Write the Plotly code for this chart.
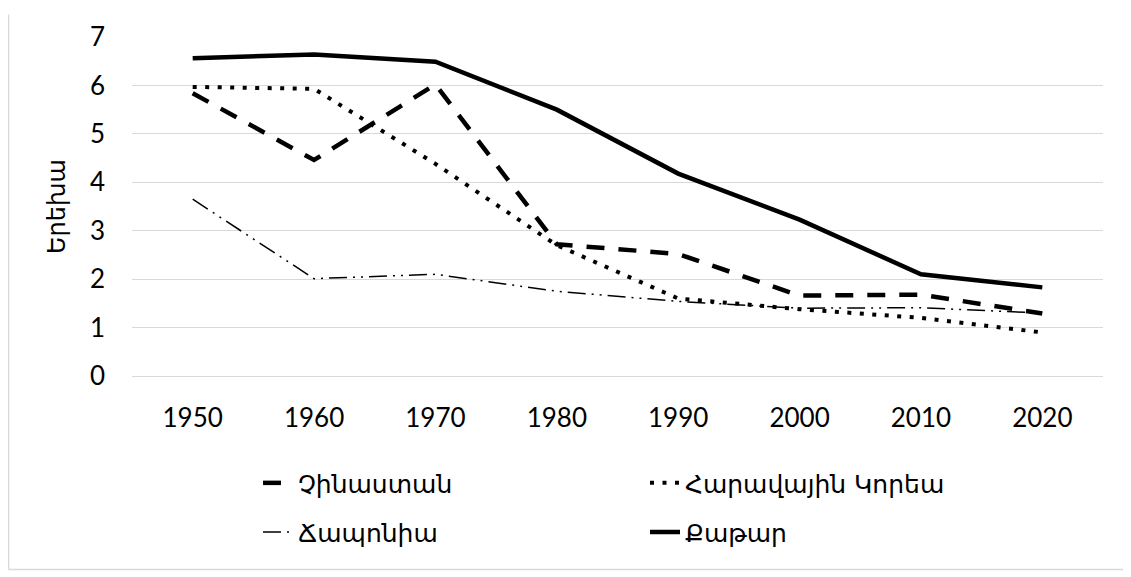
import plotly.graph_objects as go

years = ["1950", "1960", "1970", "1980", "1990", "2000", "2010", "2020"]
china = [5.84, 4.46, 6.02, 2.72, 2.52, 1.66, 1.68, 1.29]
north_korea = [5.97, 5.93, 4.38, 2.70, 1.60, 1.38, 1.20, 0.90]
japan = [3.65, 2.01, 2.10, 1.75, 1.54, 1.40, 1.41, 1.30]
qatar = [6.56, 6.64, 6.49, 5.50, 4.18, 3.23, 2.10, 1.83]

names = ["Չինաստան", "Հարավային Կորեա", "Ճապոնիա", "Քաթար"]

NUMFONT = "Lato, 'DejaVu Sans', sans-serif"
ARMFONT = "'DejaVu Sans', sans-serif"

# plot area in figure pixels (page is offset by 8px body margin)
L, R, T, B = 124, 36, 23, 209
W, H = 1131, 577
PW, PH = W - L - R, H - T - B

fig = go.Figure()
fig.add_trace(go.Scatter(x=years, y=china, name=names[0], mode="lines", legend="legend",
                         line=dict(color="black", width=4.5, dash="18px,14px")))
fig.add_trace(go.Scatter(x=years, y=north_korea, name=names[1], mode="lines", legend="legend",
                         line=dict(color="black", width=4, dash="4px,8.5px")))
fig.add_trace(go.Scatter(x=years, y=japan, name=names[2], mode="lines", legend="legend2",
                         line=dict(color="black", width=1.5, dash="18px,6px,2px,6px,2px,6px")))
fig.add_trace(go.Scatter(x=years, y=qatar, name=names[3], mode="lines", legend="legend2",
                         line=dict(color="black", width=4.5)))

def px_x(fx):
    return (fx - L) / PW

def px_y(fy):
    return (H - B - fy) / PH

leg_common = dict(orientation="h", xanchor="left", yanchor="middle",
                  entrywidth=342, entrywidthmode="pixels",
                  font=dict(family=ARMFONT, size=25), itemwidth=30,
                  bgcolor="rgba(0,0,0,0)")

fig.update_layout(
    width=W, height=H,
    margin=dict(l=L, r=R, t=T, b=B),
    paper_bgcolor="white", plot_bgcolor="white",
    font=dict(family=NUMFONT, size=26, color="black"),
    showlegend=True,
    legend=dict(x=px_x(250), y=px_y(477), **leg_common),
    legend2=dict(x=px_x(250), y=px_y(527), **leg_common),
    xaxis=dict(type="category", range=[-0.5, 7.5], showgrid=False, showline=False, ticks="",
               tickfont=dict(size=26), ticklabelstandoff=24, fixedrange=True),
    yaxis=dict(range=[0, 7], dtick=1, showgrid=True, gridcolor="#d9d9d9", gridwidth=1.3,
               zeroline=True, zerolinecolor="#d9d9d9", zerolinewidth=1.3,
               ticks="", tickfont=dict(size=26), ticklabelstandoff=26,
               title=dict(text="Երեխա", font=dict(family=ARMFONT, size=24), standoff=17)),
    shapes=[
        dict(type="line", xref="paper", yref="paper",
             x0=px_x(0.5), x1=px_x(W), y0=px_y(565), y1=px_y(565),
             line=dict(color="#d9d9d9", width=1.5)),
        dict(type="line", xref="paper", yref="paper",
             x0=px_x(0.5), x1=px_x(0.5), y0=px_y(565), y1=px_y(0),
             line=dict(color="#d9d9d9", width=1.5)),
    ],
)

fig.write_html("out.html")
